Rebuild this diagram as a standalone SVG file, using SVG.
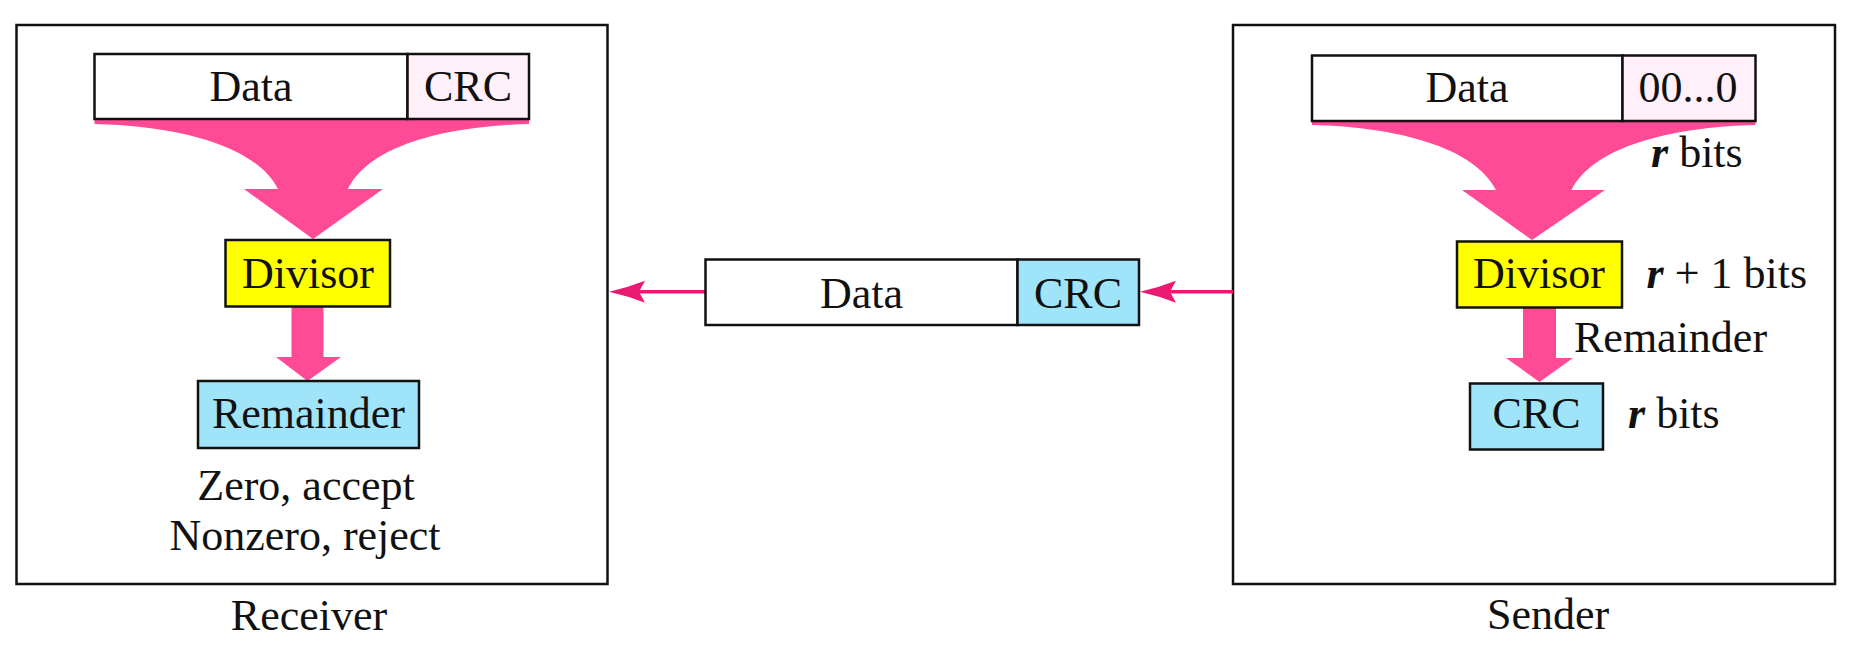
<svg xmlns="http://www.w3.org/2000/svg" width="1852" height="654" viewBox="0 0 1852 654">
<style>
text{font-family:"Liberation Serif","Times New Roman",serif;font-size:44px;fill:#111}
.c{text-anchor:middle}
.frame{fill:#fff;stroke:#111;stroke-width:2.5}
.box{stroke:#111;stroke-width:2.5}
.w{fill:#fff}
.pk{fill:#fff0fa}
.bl{fill:#9fe4f9}
.ye{fill:#ffff00}
.flow{fill:#ff4a96;stroke:none}
.link{fill:none;stroke:#ea1a72;stroke-width:3.5}
.r{font-weight:bold;font-style:italic}
</style>
<defs>
<marker id="barb" markerUnits="userSpaceOnUse" viewBox="-40 -13 42 26" refX="-11" refY="0" markerWidth="42" markerHeight="26" orient="auto">
<path d="M0,0 Q-18,-4 -36,-11 L-30,0 L-36,11 Q-18,4 0,0 Z" fill="#ea1a72"/>
</marker>
</defs>
<rect width="1852" height="654" fill="#fff"/>

<g id="receiver">
<rect class="frame" x="16.5" y="25" width="591" height="559"/>
<text class="c" x="309" y="630">Receiver</text>
</g>
<g id="sender">
<rect class="frame" x="1233" y="25" width="602" height="559"/>
<text class="c" x="1548" y="629">Sender</text>
</g>

<g id="connectors">
<path class="flow" d="M94.5,119 L529,119 L529,124 C444,126 369,146 348,189 L383,189 L313,239 L244,189 L278,189 C256,146 180,126 94.5,124 Z"/>
<path class="flow" d="M291.5,306 L323.5,306 L323.5,357 L341,357 L307.5,381 L276,357 L291.5,357 Z"/>
<path class="flow" d="M1312,121 L1755.5,121 L1755.5,125 C1670,127 1593,147 1571.5,190 L1605,190 L1532,240 L1462,190 L1496,190 C1474,147 1397,127 1312,125 Z"/>
<path class="flow" d="M1523,307 L1556,307 L1556,358 L1573,358 L1539.5,382 L1506,358 L1523,358 Z"/>
<path class="link" d="M705.5,291.7 L620,291.7" marker-end="url(#barb)"/>
<path class="link" d="M1233,291.7 L1151,291.7" marker-end="url(#barb)"/>
</g>

<g id="rx-frame">
<rect class="box w" x="94.5" y="54" width="313" height="65"/>
<rect class="box pk" x="407.5" y="54" width="121.5" height="65"/>
<text class="c" x="251" y="101">Data</text>
<text class="c" x="468" y="101">CRC</text>
</g>
<g id="rx-divisor">
<rect class="box ye" x="225.5" y="240" width="164.5" height="66.5"/>
<text class="c" x="308" y="288">Divisor</text>
</g>
<g id="rx-remainder">
<rect class="box bl" x="198" y="381" width="221" height="67"/>
<text class="c" x="308.5" y="428">Remainder</text>
</g>
<g id="rx-result">
<text class="c" x="306" y="500">Zero, accept</text>
<text class="c" x="305" y="550">Nonzero, reject</text>
</g>

<g id="tx-frame">
<rect class="box w" x="705.5" y="259.5" width="312" height="65.5"/>
<rect class="box bl" x="1017.5" y="259.5" width="121.5" height="65.5"/>
<text class="c" x="861.5" y="308">Data</text>
<text class="c" x="1078" y="308">CRC</text>
</g>

<g id="tx-data">
<rect class="box w" x="1312" y="55.5" width="310.5" height="65.5"/>
<rect class="box pk" x="1622.5" y="55.5" width="133" height="65.5"/>
<text class="c" x="1467" y="101.5">Data</text>
<text class="c" x="1688" y="101.5">00...0</text>
<text x="1651" y="167"><tspan class="r">r</tspan> bits</text>
</g>
<g id="tx-divisor">
<rect class="box ye" x="1457" y="241.5" width="165" height="66"/>
<text class="c" x="1539" y="288">Divisor</text>
<text x="1646.5" y="288"><tspan class="r">r</tspan> + 1 bits</text>
</g>
<g id="tx-remainder-label">
<text x="1574" y="352">Remainder</text>
</g>
<g id="tx-crc">
<rect class="box bl" x="1470" y="383.5" width="133" height="66"/>
<text class="c" x="1536.5" y="428">CRC</text>
<text x="1628" y="428"><tspan class="r">r</tspan> bits</text>
</g>
</svg>
